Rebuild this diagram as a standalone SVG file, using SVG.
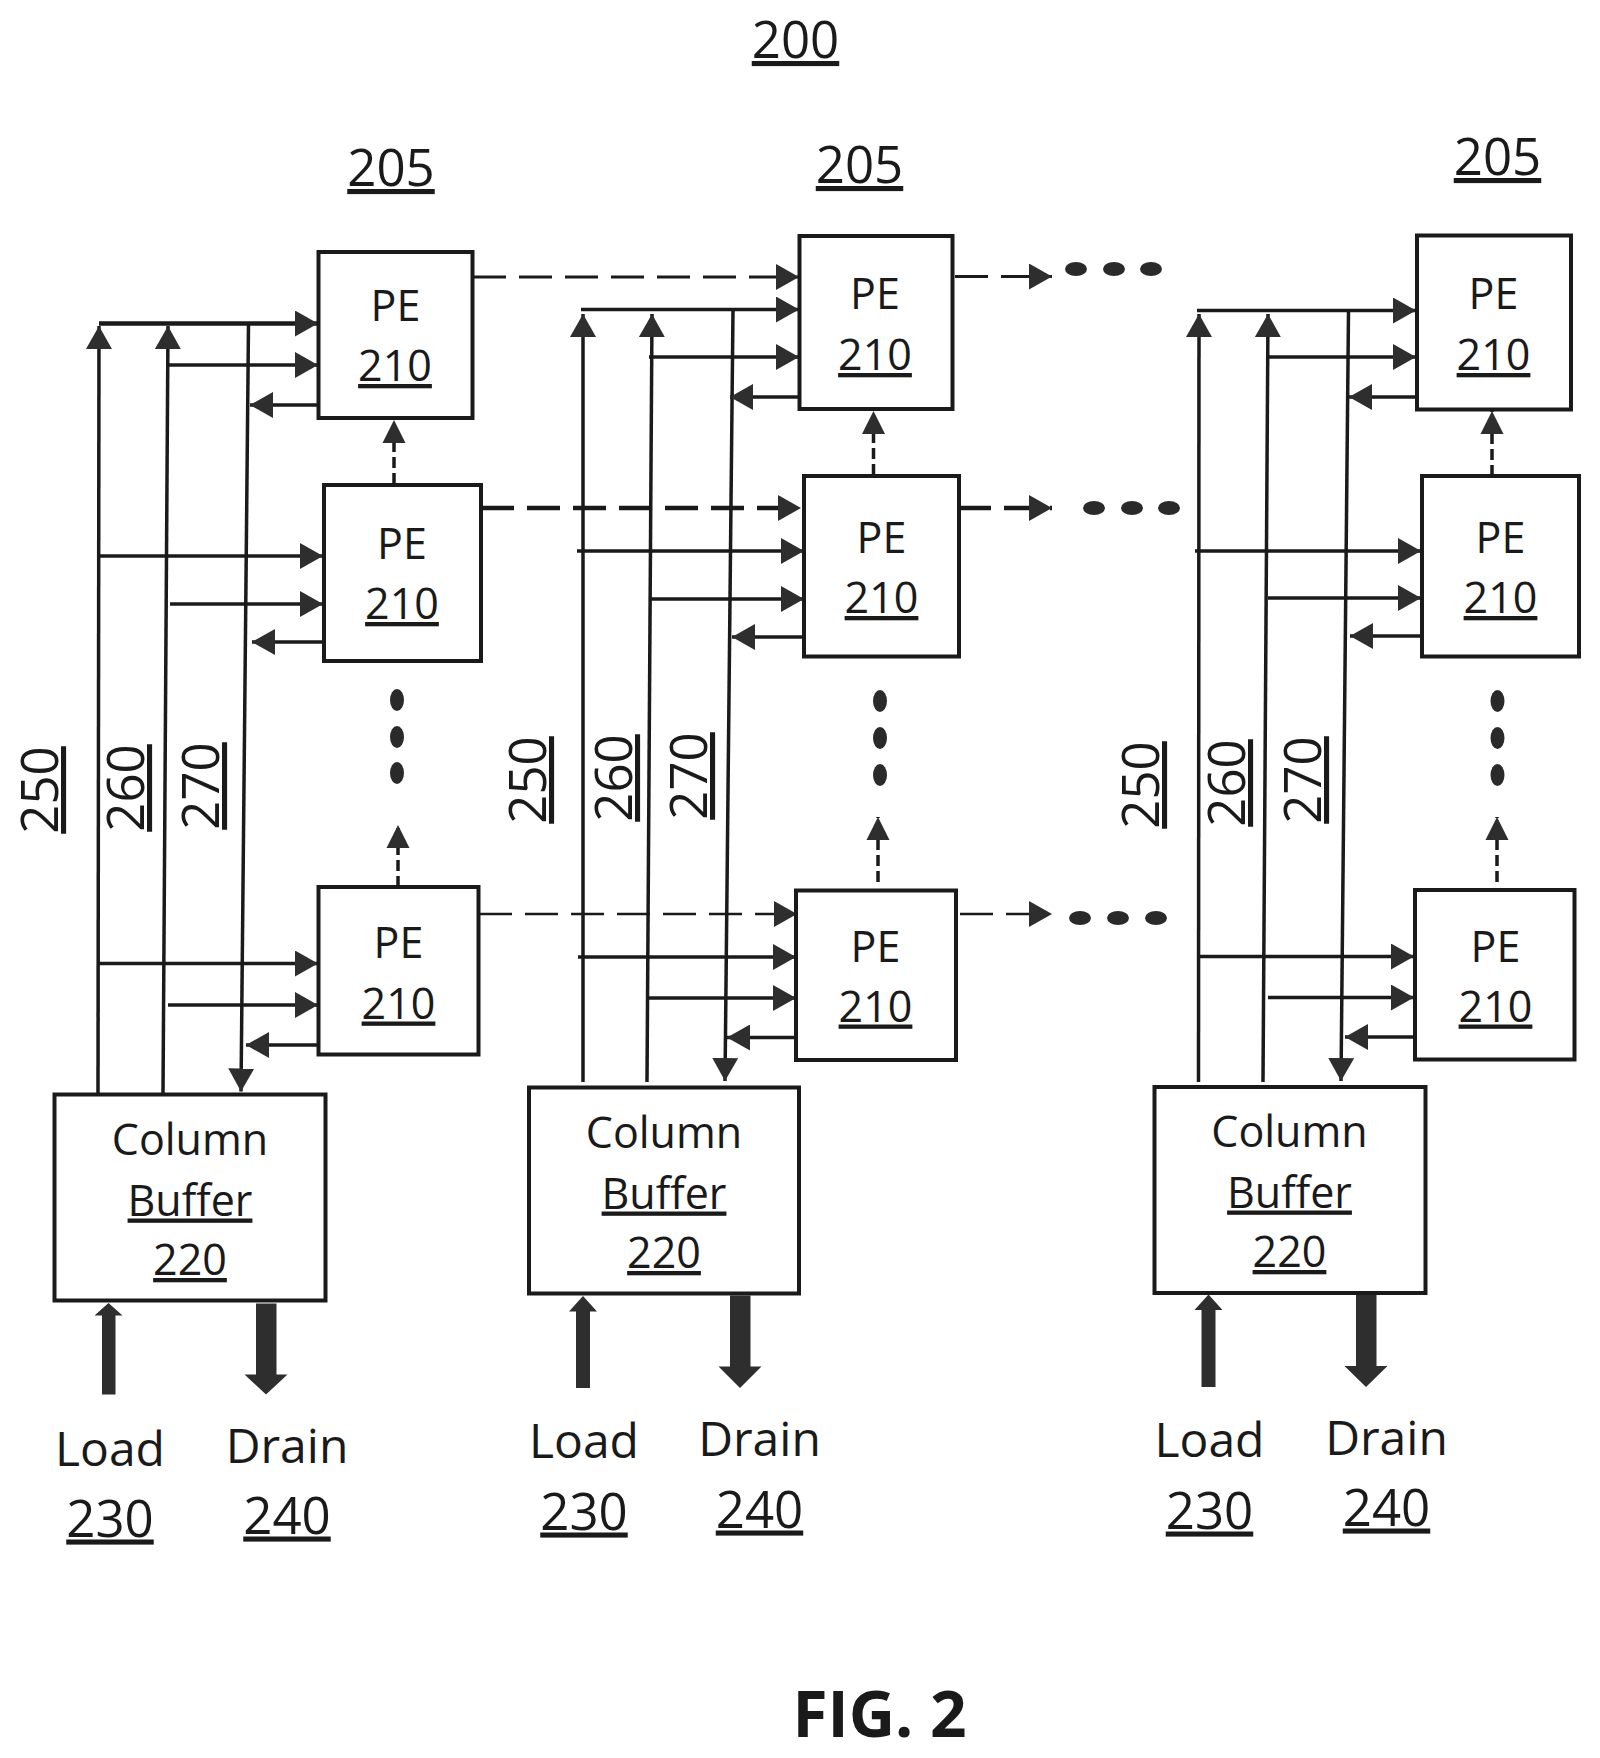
<svg xmlns="http://www.w3.org/2000/svg" width="1600" height="1758" viewBox="0 0 1600 1758">
<style>
text{font-family:"Open Sans","Noto Sans","Liberation Sans",sans-serif;fill:#1a1a1a;text-anchor:middle}
.n{font-size:43px}
.l{font-size:48px}
.r{font-size:51px}
.u{text-decoration:underline;text-decoration-thickness:3.5px;text-underline-offset:8px}
.f{font-size:64px;font-weight:700}
.box{fill:#fff;stroke:#1a1a1a;stroke-width:4}
.w{fill:none;stroke:#1a1a1a;stroke-width:3.5}
.a{marker-end:url(#ah)}
.d1{stroke-width:3;stroke-dasharray:33 13;marker-end:url(#ah)}
.d2{stroke-width:4.5;stroke-dasharray:33 13;marker-end:url(#ah)}
.d3{stroke-width:2.5;stroke-dasharray:33 13;marker-end:url(#ah)}
.dv{stroke-width:3.5;stroke-dasharray:11 5;marker-end:url(#ah2)}
.b{fill:#2e2e2e}
.dot{fill:#2a2a2a}
</style>
<defs>
<marker id="ah" markerUnits="userSpaceOnUse" markerWidth="24" markerHeight="26" refX="23" refY="13" orient="auto"><path d="M0 0L23 13L0 26Z" fill="#2e2e2e"/></marker>
<marker id="ah2" markerUnits="userSpaceOnUse" markerWidth="24" markerHeight="26" refX="23" refY="13" orient="auto"><path d="M0 1.500L23 13L0 24.500Z" fill="#2e2e2e"/></marker>
</defs>
<g id="connectors">
<g id="col1-wires" class="w">
<path d="M98 1094L99 326" class="a"/>
<path d="M163 1094L168 326" class="a"/>
<path d="M248.500 324L241 1091.500" class="a"/>
<path d="M99 323.500H318" class="a" stroke-width="4.500"/>
<path d="M168 365H318" class="a"/>
<path d="M318 405H250" class="a"/>
<path d="M99 556H323" class="a"/>
<path d="M170 604H323" class="a"/>
<path d="M323 642H252" class="a"/>
<path d="M98 963.500H318" class="a"/>
<path d="M168 1005H318" class="a"/>
<path d="M318 1045H246" class="a"/>
<path d="M473 277H799" class="d1"/>
<path d="M481 508H801" class="d2"/>
<path d="M479 914H797" class="d3"/>
<path d="M394 484V420" class="dv"/>
<path d="M398 887V825" class="dv"/>
</g>
<g id="col2-wires" class="w">
<path d="M583 1082V314" class="a"/>
<path d="M647 1082L652 314" class="a"/>
<path d="M733 310L725 1081" class="a"/>
<path d="M581 309.500H799" class="a"/>
<path d="M649 357H799" class="a"/>
<path d="M799 397H730" class="a"/>
<path d="M577 551H804" class="a"/>
<path d="M649 599H804" class="a"/>
<path d="M804 637H732" class="a"/>
<path d="M578 957H796" class="a"/>
<path d="M649 998H796" class="a"/>
<path d="M796 1037.500H727" class="a"/>
<path d="M955 276.500H1052" class="d1"/>
<path d="M958 508H1052" class="d2"/>
<path d="M960 914H1052" class="d3"/>
<path d="M873.500 475V411" class="dv"/>
<path d="M878 882V817" class="dv"/>
</g>
<g id="col3-wires" class="w">
<path d="M1198.500 1082L1199 314" class="a"/>
<path d="M1263 1082L1268 314" class="a"/>
<path d="M1348.500 311L1341 1081" class="a"/>
<path d="M1197 310.500H1416" class="a"/>
<path d="M1268 357H1416" class="a"/>
<path d="M1416 397H1349" class="a"/>
<path d="M1195 551H1421" class="a"/>
<path d="M1268 598H1421" class="a"/>
<path d="M1421 636H1350" class="a"/>
<path d="M1198 956.500H1414" class="a"/>
<path d="M1268 997.500H1414" class="a"/>
<path d="M1414 1037H1345" class="a"/>
<path d="M1492 476V411" class="dv"/>
<path d="M1497 882V817" class="dv"/>
</g>
<g id="block-arrows" class="b">
<path d="M102 1394.500V1315.500H94.500L108.500 1303L122.500 1315.500H115.500V1394.500Z"/>
<path d="M256 1303.500H276.500V1374.500H287.500L266 1394.500L244.500 1374.500H256Z"/>
<path d="M576 1388V1311.500H569L583 1296L597 1311.500H590V1388Z"/>
<path d="M730 1295.500H750.500V1366.500H761.500L740 1388L718.500 1366.500H730Z"/>
<path d="M1201.500 1387V1310H1194.500L1208.500 1294.500L1222.500 1310H1215.500V1387Z"/>
<path d="M1356 1294H1376.500V1366H1387.500L1366 1387L1344.500 1366H1356Z"/>
</g>
</g>
<g id="ellipsis" class="dot">
<ellipse cx="397" cy="700" rx="7" ry="11"/><ellipse cx="397" cy="737" rx="7" ry="11"/><ellipse cx="397" cy="773" rx="7" ry="11"/>
<ellipse cx="880" cy="701" rx="7" ry="11"/><ellipse cx="880" cy="738" rx="7" ry="11"/><ellipse cx="880" cy="775" rx="7" ry="11"/>
<ellipse cx="1497.500" cy="701" rx="7" ry="11"/><ellipse cx="1497.500" cy="738" rx="7" ry="11"/><ellipse cx="1497.500" cy="775" rx="7" ry="11"/>
<ellipse cx="1076" cy="269" rx="11" ry="7"/><ellipse cx="1114" cy="269" rx="11" ry="7"/><ellipse cx="1151" cy="269" rx="11" ry="7"/>
<ellipse cx="1094" cy="508" rx="11" ry="7"/><ellipse cx="1132" cy="508" rx="11" ry="7"/><ellipse cx="1169" cy="508" rx="11" ry="7"/>
<ellipse cx="1080" cy="918" rx="11" ry="7"/><ellipse cx="1118" cy="918" rx="11" ry="7"/><ellipse cx="1156" cy="918" rx="11" ry="7"/>
</g>
<g id="pe-c1-r1"><rect class="box" x="318.500" y="252" width="154" height="166"/><text class="n" x="395.500" y="321">PE</text><text class="n u" x="395" y="381">210</text></g>
<g id="pe-c1-r2"><rect class="box" x="324" y="485" width="157" height="176"/><text class="n" x="402" y="559">PE</text><text class="n u" x="402" y="619">210</text></g>
<g id="pe-c1-r3"><rect class="box" x="318.500" y="887" width="160" height="167.500"/><text class="n" x="398.500" y="957.500">PE</text><text class="n u" x="398.500" y="1018.500">210</text></g>
<g id="pe-c2-r1"><rect class="box" x="799.500" y="236" width="153" height="173"/><text class="n" x="875" y="309">PE</text><text class="n u" x="875" y="370">210</text></g>
<g id="pe-c2-r2"><rect class="box" x="804" y="476" width="155" height="180.500"/><text class="n" x="881.500" y="553">PE</text><text class="n u" x="881.500" y="613">210</text></g>
<g id="pe-c2-r3"><rect class="box" x="796" y="890.500" width="160" height="169.500"/><text class="n" x="875.500" y="961.500">PE</text><text class="n u" x="875.500" y="1021.500">210</text></g>
<g id="pe-c3-r1"><rect class="box" x="1417" y="235.500" width="154" height="174"/><text class="n" x="1493.500" y="309">PE</text><text class="n u" x="1493.500" y="370">210</text></g>
<g id="pe-c3-r2"><rect class="box" x="1422" y="476" width="157" height="180.500"/><text class="n" x="1500.500" y="553">PE</text><text class="n u" x="1500.500" y="613">210</text></g>
<g id="pe-c3-r3"><rect class="box" x="1415" y="890" width="159.500" height="169.500"/><text class="n" x="1495.500" y="961.500">PE</text><text class="n u" x="1495.500" y="1021.500">210</text></g>
<g id="buffer-1"><rect class="box" x="54.500" y="1094.500" width="271" height="206"/><text class="n" x="190" y="1154.500">Column</text><text class="n u" x="190" y="1215.500">Buffer</text><text class="n u" x="190" y="1275">220</text></g>
<g id="buffer-2"><rect class="box" x="529" y="1087.500" width="270" height="206"/><text class="n" x="664" y="1147.500">Column</text><text class="n u" x="664" y="1208.500">Buffer</text><text class="n u" x="664" y="1268">220</text></g>
<g id="buffer-3"><rect class="box" x="1154.500" y="1087" width="271" height="206"/><text class="n" x="1289.500" y="1146.500">Column</text><text class="n u" x="1289.500" y="1207.500">Buffer</text><text class="n u" x="1289.500" y="1267">220</text></g>
<g id="labels">
<text class="r u" x="795.500" y="58">200</text>
<text class="r u" x="391" y="186">205</text>
<text class="r u" x="859.500" y="183">205</text>
<text class="r u" x="1497.500" y="175">205</text>
<text class="l" x="110" y="1465.500">Load</text><text class="r u" x="110" y="1536.500">230</text>
<text class="l" x="287" y="1462.500">Drain</text><text class="r u" x="287" y="1533.500">240</text>
<text class="l" x="584" y="1457.500">Load</text><text class="r u" x="584" y="1529.500">230</text>
<text class="l" x="759.500" y="1455.500">Drain</text><text class="r u" x="759.500" y="1527.500">240</text>
<text class="l" x="1209.500" y="1456.500">Load</text><text class="r u" x="1209.500" y="1528.500">230</text>
<text class="l" x="1386.500" y="1454.500">Drain</text><text class="r u" x="1386.500" y="1525.500">240</text>
<text class="r u" transform="translate(58 790) rotate(-90)">250</text>
<text class="r u" transform="translate(144 788) rotate(-90)">260</text>
<text class="r u" transform="translate(219 786) rotate(-90)">270</text>
<text class="r u" transform="translate(546 780) rotate(-90)">250</text>
<text class="r u" transform="translate(632 778) rotate(-90)">260</text>
<text class="r u" transform="translate(707 776) rotate(-90)">270</text>
<text class="r u" transform="translate(1159 785) rotate(-90)">250</text>
<text class="r u" transform="translate(1245 783) rotate(-90)">260</text>
<text class="r u" transform="translate(1321 780) rotate(-90)">270</text>
<text class="f" x="879.500" y="1737">FIG. 2</text>
</g>
</svg>
